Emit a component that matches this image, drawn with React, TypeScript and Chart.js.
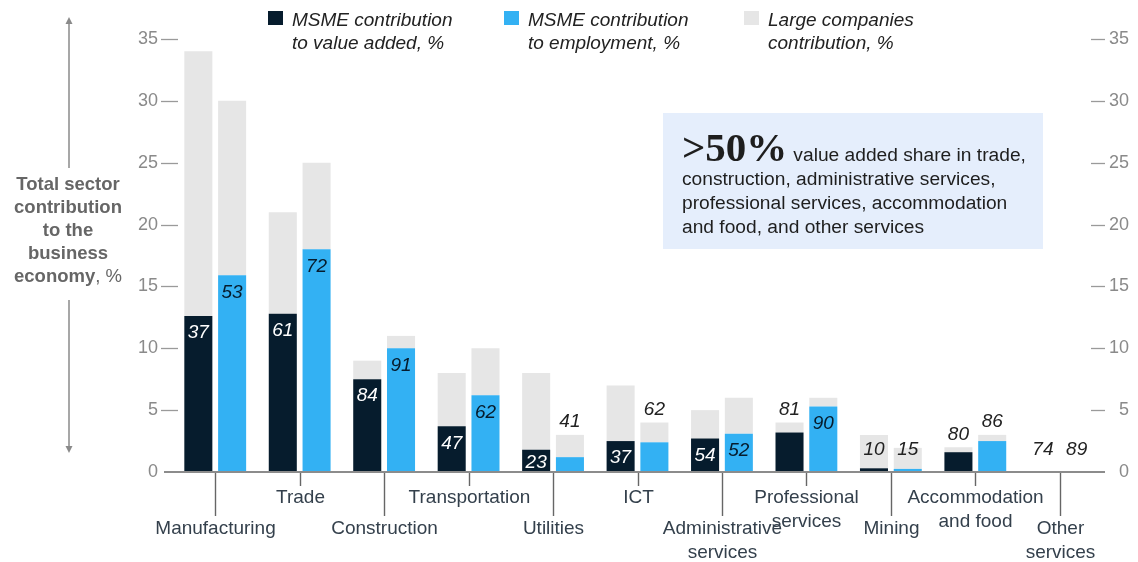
import React, { useEffect, useRef } from "react";
import { Chart, registerables } from "chart.js";

Chart.register(...registerables);

// ---------- data ----------
const categories: string[][] = [
  ["Manufacturing"],
  ["Trade"],
  ["Construction"],
  ["Transportation"],
  ["Utilities"],
  ["ICT"],
  ["Administrative", "services"],
  ["Professional", "services"],
  ["Mining"],
  ["Accommodation", "and food"],
  ["Other", "services"],
];

const msmeValueAdded = [12.6, 12.8, 7.5, 3.7, 1.8, 2.5, 2.7, 3.2, 0.3, 1.6, 0.03];
const largeValueAdded = [21.4, 8.2, 1.5, 4.3, 6.2, 4.5, 2.3, 0.8, 2.7, 0.4, 0.01];
const msmeEmployment = [15.9, 18.0, 10.0, 6.2, 1.2, 2.4, 3.1, 5.3, 0.25, 2.5, 0.03];
const largeEmployment = [14.1, 7.0, 1.0, 3.8, 1.8, 1.6, 2.9, 0.7, 1.7, 0.5, 0.01];

const valueAddedShareLabels = [37, 61, 84, 47, 23, 37, 54, 81, 10, 80, 74];
const employmentShareLabels = [53, 72, 91, 62, 41, 62, 52, 90, 15, 86, 89];
// where each share label sits: in = inside MSME bar, out = above whole bar, low = near the axis
const valueAddedLabelPlace = ["in", "in", "in", "in", "in", "in", "in", "out", "low", "out", "low"];
const employmentLabelPlace = ["in", "in", "in", "in", "out", "out", "in", "in", "low", "out", "low"];

const yTickValues = [0, 5, 10, 15, 20, 25, 30, 35];

const legendItems = [
  { color: "#061c2d", lines: ["MSME contribution", "to value added, %"] },
  { color: "#33b1f3", lines: ["MSME contribution", "to employment, %"] },
  { color: "#e6e6e6", lines: ["Large companies", "contribution, %"] },
];

const calloutBig = ">50%";
const calloutLines = [
  "value added share in trade,",
  "construction, administrative services,",
  "professional services, accommodation",
  "and food, and other services",
];

const yTitleLines = ["Total sector", "contribution", "to the", "business", "economy"];

// ---------- styles ----------
const DARK = "#061c2d";
const BLUE = "#33b1f3";
const GRAY = "#e6e6e6";
const FONT = '"Liberation Sans", Arial, Helvetica, sans-serif';

const overlayPlugin = {
  id: "overlay",
  afterDraw(chart: any) {
    const ctx: CanvasRenderingContext2D = chart.ctx;
    const ys = chart.scales.y;
    const xs = chart.scales.x;
    const ca = chart.chartArea;
    const y0 = Math.round(ys.getPixelForValue(0));

    const line = (x1: number, y1: number, x2: number, y2: number) => {
      ctx.beginPath();
      ctx.moveTo(x1, y1);
      ctx.lineTo(x2, y2);
      ctx.stroke();
    };

    ctx.save();

    // ---- y axis ticks (left and right) ----
    ctx.font = `18px ${FONT}`;
    ctx.fillStyle = "#8a8a8a";
    ctx.strokeStyle = "#9a9a9a";
    ctx.lineWidth = 1.3;
    ctx.textBaseline = "middle";
    ctx.textAlign = "right";
    yTickValues.forEach((v) => {
      const py = Math.round(ys.getPixelForValue(v)) + 0.5;
      ctx.fillText(String(v), ca.left - 15, py);
      ctx.fillText(String(v), ca.right + 27, py);
      if (v !== 0) {
        line(ca.left - 12, py, ca.left + 5, py);
        line(ca.right - 11, py, ca.right + 3, py);
      }
    });

    // ---- x axis line ----
    ctx.strokeStyle = "#8c8c8c";
    ctx.lineWidth = 2;
    line(ca.left - 9, y0, ca.right + 3, y0);

    // ---- category ticks and labels ----
    ctx.font = `19px ${FONT}`;
    ctx.textAlign = "center";
    ctx.textBaseline = "middle";
    categories.forEach((lines, i) => {
      const cx = Math.round(xs.getPixelForValue(i)) + 0.5;
      const lower = i % 2 === 0;
      ctx.strokeStyle = "#666";
      ctx.lineWidth = 1.4;
      line(cx, y0 + 1, cx, lower ? y0 + 44 : y0 + 14);
      ctx.fillStyle = "#34404c";
      const startY = lower ? y0 + 57 : y0 + 26;
      lines.forEach((t, k) => ctx.fillText(t, cx, startY + k * 23.5));
    });

    // ---- share labels ----
    ctx.font = `italic 19px ${FONT}`;
    ctx.textAlign = "center";
    ctx.textBaseline = "middle";
    const drawShares = (
      msmeIdx: number,
      largeIdx: number,
      texts: number[],
      place: string[],
      insideColor: string
    ) => {
      const mMeta = chart.getDatasetMeta(msmeIdx);
      const lMeta = chart.getDatasetMeta(largeIdx);
      texts.forEach((t, i) => {
        const m = mMeta.data[i];
        const l = lMeta.data[i];
        let ty: number;
        let color = "#222";
        if (place[i] === "in") {
          ty = Math.min(m.y + 17, y0 - 9);
          color = insideColor;
        } else if (place[i] === "out") {
          ty = l.y - 13;
        } else {
          ty = y0 - 22;
        }
        ctx.fillStyle = color;
        ctx.fillText(String(t), m.x, ty);
      });
    };
    drawShares(0, 1, valueAddedShareLabels, valueAddedLabelPlace, "#ffffff");
    drawShares(2, 3, employmentShareLabels, employmentLabelPlace, DARK);

    // ---- legend ----
    const legendX = [268, 504, 744];
    ctx.font = `italic 19px ${FONT}`;
    ctx.textAlign = "left";
    ctx.textBaseline = "alphabetic";
    legendItems.forEach((it, i) => {
      ctx.fillStyle = it.color;
      ctx.fillRect(legendX[i], 11, 15, 14);
      ctx.fillStyle = "#222";
      it.lines.forEach((t, k) => ctx.fillText(t, legendX[i] + 24, 26 + k * 22.5));
    });

    // ---- y-axis title with arrows ----
    const tx = 68;
    ctx.fillStyle = "#666";
    ctx.textAlign = "center";
    ctx.textBaseline = "middle";
    ctx.font = `bold 18.5px ${FONT}`;
    yTitleLines.forEach((t, k) => {
      if (k < yTitleLines.length - 1) {
        ctx.fillText(t, tx, 185 + k * 23);
      } else {
        ctx.font = `bold 18.5px ${FONT}`;
        const w1 = ctx.measureText(t).width;
        ctx.font = `18.5px ${FONT}`;
        const w2 = ctx.measureText(", %").width;
        const sx = tx - (w1 + w2) / 2;
        ctx.textAlign = "left";
        ctx.font = `bold 18.5px ${FONT}`;
        ctx.fillText(t, sx, 185 + k * 23);
        ctx.font = `18.5px ${FONT}`;
        ctx.fillText(", %", sx + w1, 185 + k * 23);
      }
    });
    ctx.strokeStyle = "#8a8a8a";
    ctx.fillStyle = "#8a8a8a";
    ctx.lineWidth = 1.5;
    line(69, 22, 69, 168);
    line(69, 300, 69, 447);
    ctx.beginPath();
    ctx.moveTo(69, 17);
    ctx.lineTo(65.5, 24);
    ctx.lineTo(72.5, 24);
    ctx.closePath();
    ctx.fill();
    ctx.beginPath();
    ctx.moveTo(69, 453);
    ctx.lineTo(65.5, 446);
    ctx.lineTo(72.5, 446);
    ctx.closePath();
    ctx.fill();

    // ---- callout box ----
    ctx.fillStyle = "#e5eefc";
    ctx.fillRect(663, 113, 380, 136);
    ctx.fillStyle = "#1e1e1e";
    ctx.textAlign = "left";
    ctx.textBaseline = "alphabetic";
    ctx.font = `bold 41px "Liberation Serif", "Times New Roman", serif`;
    ctx.fillText(calloutBig, 682, 161);
    const bw = ctx.measureText(calloutBig).width;
    ctx.font = `19.2px ${FONT}`;
    ctx.fillText(calloutLines[0], 682 + bw + 6, 161);
    for (let k = 1; k < calloutLines.length; k++) {
      ctx.fillText(calloutLines[k], 682, 161 + k * 24);
    }

    ctx.restore();
  },
};

export default function App() {
  const canvasRef = useRef<HTMLCanvasElement | null>(null);

  useEffect(() => {
    if (!canvasRef.current) return;
    const chart = new Chart(canvasRef.current, {
      type: "bar",
      data: {
        labels: categories.map((c) => c.join(" ")),
        datasets: [
          { label: "MSME value added", data: msmeValueAdded, backgroundColor: DARK, stack: "va" },
          { label: "Large value added", data: largeValueAdded, backgroundColor: GRAY, stack: "va" },
          { label: "MSME employment", data: msmeEmployment, backgroundColor: BLUE, stack: "emp" },
          { label: "Large employment", data: largeEmployment, backgroundColor: GRAY, stack: "emp" },
        ],
      },
      options: {
        responsive: false,
        animation: false,
        devicePixelRatio: 1,
        layout: { padding: { left: 173, right: 36, top: 39, bottom: 90 } },
        datasets: {
          bar: { categoryPercentage: 0.8, barPercentage: 0.83, borderWidth: 0 },
        },
        scales: {
          x: { stacked: true, display: false, grid: { display: false } },
          y: { stacked: true, display: false, min: 0, max: 35 },
        },
        plugins: {
          legend: { display: false },
          tooltip: { enabled: false },
        },
      },
      plugins: [overlayPlugin],
    });
    return () => chart.destroy();
  }, []);

  return (
    <div style={{ position: "absolute", left: 0, top: 0, width: 1138, height: 562, background: "#fff" }}>
      <canvas ref={canvasRef} width={1138} height={562} />
    </div>
  );
}
